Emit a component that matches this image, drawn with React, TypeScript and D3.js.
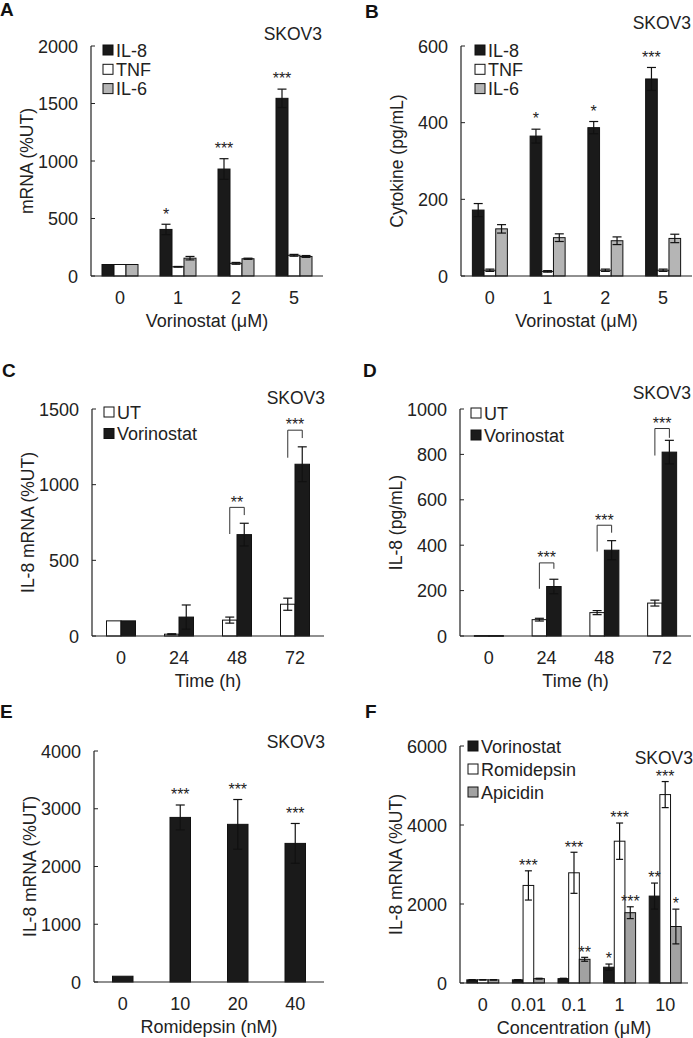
import React from "react";
import * as d3 from "d3";

const FONT = "'Liberation Sans', Arial, Helvetica, sans-serif";
const BLACK = "#1a1a1a";
const WHITE = "#ffffff";
const GREY = "#b5b5b5";
const GREY2 = "#a2a2a2";

// ---------- Panel A data ----------
const catsA = ["0", "1", "2", "5"];
const il8A = [100, 405, 930, 1545];
const il8ErrA = [0, 45, 90, 80];
const tnfA = [100, 80, 110, 180];
const tnfErrA = [0, 3, 8, 8];
const il6A = [100, 155, 150, 170];
const il6ErrA = [0, 15, 5, 8];
const starsA = ["", "*", "***", "***"];
const ticksA = [0, 500, 1000, 1500, 2000];

// ---------- Panel B data ----------
const catsB = ["0", "1", "2", "5"];
const il8B = [172, 365, 387, 514];
const il8ErrB = [17, 18, 16, 30];
const tnfB = [15, 12, 15, 15];
const tnfErrB = [3, 2, 3, 3];
const il6B = [123, 100, 92, 98];
const il6ErrB = [11, 10, 10, 11];
const starsB = ["", "*", "*", "***"];
const ticksB = [0, 200, 400, 600];

// ---------- Panel C data ----------
const catsC = ["0", "24", "48", "72"];
const utC = [100, 12, 105, 210];
const utErrC = [0, 3, 20, 40];
const vorC = [100, 125, 670, 1135];
const vorErrC = [0, 80, 75, 115];
const ticksC = [0, 500, 1000, 1500];
const bracketCatsC = ["48", "72"];
const bracketTopC = [850, 1360];
const bracketLeftC = [674, 1178];
const bracketRightC = [799, 1308];
const bracketLabelC = ["**", "***"];

// ---------- Panel D data ----------
const catsD = ["0", "24", "48", "72"];
const utD = [2, 72, 103, 145];
const utErrD = [0, 6, 9, 13];
const vorD = [2, 218, 378, 810];
const vorErrD = [0, 32, 42, 52];
const ticksD = [0, 200, 400, 600, 800, 1000];
const bracketCatsD = ["24", "48", "72"];
const bracketTopD = [322, 488, 914];
const bracketLeftD = [208, 372, 795];
const bracketRightD = [296, 455, 873];
const bracketLabelD = ["***", "***", "***"];

// ---------- Panel E data ----------
const catsE = ["0", "10", "20", "40"];
const romE = [100, 2850, 2730, 2400];
const romErrE = [0, 215, 430, 345];
const starsE = ["", "***", "***", "***"];
const ticksE = [0, 1000, 2000, 3000, 4000];

// ---------- Panel F data ----------
const catsF = ["0", "0.01", "0.1", "1", "10"];
const vorF = [80, 80, 110, 400, 2200];
const vorErrF = [5, 5, 10, 80, 330];
const romF = [80, 2470, 2790, 3590, 4770];
const romErrF = [5, 370, 520, 460, 330];
const apiF = [80, 110, 600, 1780, 1430];
const apiErrF = [5, 10, 50, 150, 440];
const starsVorF = ["", "", "", "*", "**"];
const starsRomF = ["", "***", "***", "***", "***"];
const starsApiF = ["", "", "**", "***", "*"];
const ticksF = [0, 2000, 4000, 6000];

type Series = {
  name: string;
  values: number[];
  errors: number[];
  stars?: string[];
  fill: string;
};

type Brackets = {
  cats: string[];
  top: number[];
  left: number[];
  right: number[];
  labels: string[];
};

type PanelCfg = {
  letter: string;
  letterX: number;
  letterY: number;
  cats: string[];
  series: Series[];
  x0: number;
  x1: number;
  yTop: number;
  yBottom: number;
  yMax: number;
  ticks: number[];
  groupW: number;
  yTitle: string;
  xTitle: string;
  skovX: number;
  skovY: number;
  legendX?: number;
  legendY?: number;
  legendDy?: number;
  starGap: number;
  capW: number;
  brackets?: Brackets;
};

function Panel({ cfg }: { cfg: PanelCfg }) {
  const x = d3.scaleBand<string>().domain(cfg.cats).range([cfg.x0, cfg.x1]).padding(0);
  const y = d3.scaleLinear().domain([0, cfg.yMax]).range([cfg.yBottom, cfg.yTop]);
  const sub = d3
    .scaleBand<string>()
    .domain(cfg.series.map((s) => s.name))
    .range([-cfg.groupW / 2, cfg.groupW / 2])
    .padding(0);
  const bw = sub.bandwidth();
  const cx = (c: string) => (x(c) as number) + x.bandwidth() / 2;
  const starFs = 16;

  return (
    <g>
      <text x={cfg.letterX} y={cfg.letterY} fontFamily={FONT} fontWeight="bold" fontSize={19} fill="#111">
        {cfg.letter}
      </text>
      <text x={cfg.skovX} y={cfg.skovY} fontFamily={FONT} fontSize={17.5} fill="#222" textAnchor="end">
        SKOV3
      </text>
      {/* bars */}
      {cfg.series.map((s) =>
        cfg.cats.map((c, i) => {
          const bx = cx(c) + (sub(s.name) as number);
          const v = s.values[i];
          return (
            <rect
              key={s.name + c}
              x={bx}
              y={y(v)}
              width={bw}
              height={Math.max(0.8, y(0) - y(v))}
              fill={s.fill}
              stroke="#111"
              strokeWidth={1}
            />
          );
        })
      )}
      {/* error bars */}
      {cfg.series.map((s) =>
        cfg.cats.map((c, i) => {
          const e = s.errors[i];
          if (!e) return null;
          const mx = cx(c) + (sub(s.name) as number) + bw / 2;
          const v = s.values[i];
          const yt = y(v + e);
          const yb = y(Math.max(0, v - e));
          const hw = cfg.capW / 2;
          return (
            <g key={"e" + s.name + c} stroke="#111" strokeWidth={1.2}>
              <line x1={mx} x2={mx} y1={yt} y2={yb} />
              <line x1={mx - hw} x2={mx + hw} y1={yt} y2={yt} />
              <line x1={mx - hw} x2={mx + hw} y1={yb} y2={yb} />
            </g>
          );
        })
      )}
      {/* stars */}
      {cfg.series.map((s) =>
        s.stars
          ? cfg.cats.map((c, i) => {
              const st = s.stars![i];
              if (!st) return null;
              const mx = cx(c) + (sub(s.name) as number) + bw / 2;
              const top = y(s.values[i] + s.errors[i]);
              return (
                <text
                  key={"s" + s.name + c}
                  x={mx}
                  y={top - cfg.starGap + starFs * 0.58}
                  fontFamily={FONT}
                  fontSize={starFs}
                  fill="#222"
                  textAnchor="middle"
                >
                  {st}
                </text>
              );
            })
          : null
      )}
      {/* brackets */}
      {cfg.brackets
        ? cfg.brackets.cats.map((c, i) => {
            const b = cfg.brackets!;
            const lx = cx(c) + (sub(cfg.series[0].name) as number) + bw / 2;
            const rx = cx(c) + (sub(cfg.series[1].name) as number) + bw / 2;
            const yt = y(b.top[i]);
            return (
              <g key={"b" + c}>
                <path
                  d={`M${lx},${y(b.left[i])}V${yt}H${rx}V${y(b.right[i])}`}
                  fill="none"
                  stroke="#333"
                  strokeWidth={1}
                />
                <text
                  x={(lx + rx) / 2}
                  y={yt - 9 + starFs * 0.58}
                  fontFamily={FONT}
                  fontSize={starFs}
                  fill="#222"
                  textAnchor="middle"
                >
                  {b.labels[i]}
                </text>
              </g>
            );
          })
        : null}
      {/* axes */}
      <line x1={cfg.x0} x2={cfg.x0} y1={cfg.yTop} y2={cfg.yBottom} stroke="#222" strokeWidth={1.2} />
      <line x1={cfg.x0} x2={cfg.x1} y1={cfg.yBottom} y2={cfg.yBottom} stroke="#222" strokeWidth={1.2} />
      {cfg.ticks.map((t) => (
        <g key={"t" + t}>
          <line x1={cfg.x0} x2={cfg.x0 + 4} y1={y(t)} y2={y(t)} stroke="#222" strokeWidth={1} />
          <text
            x={cfg.x0 - 13}
            y={y(t) + 6.5}
            fontFamily={FONT}
            fontSize={18}
            fill="#222"
            textAnchor="end"
          >
            {t}
          </text>
        </g>
      ))}
      {cfg.cats.map((c) => (
        <text
          key={"xl" + c}
          x={cx(c)}
          y={cfg.yBottom + 27.5}
          fontFamily={FONT}
          fontSize={18}
          fill="#222"
          textAnchor="middle"
        >
          {c}
        </text>
      ))}
      <text
        x={(cfg.x0 + cfg.x1) / 2}
        y={cfg.yBottom + 51}
        fontFamily={FONT}
        fontSize={18}
        fill="#222"
        textAnchor="middle"
      >
        {cfg.xTitle}
      </text>
      <text
        transform={`translate(${cfg.x0 - 58},${(cfg.yTop + cfg.yBottom) / 2}) rotate(-90)`}
        fontFamily={FONT}
        fontSize={17.5}
        fill="#222"
        textAnchor="middle"
      >
        {cfg.yTitle}
      </text>
      {/* legend */}
      {cfg.legendX !== undefined
        ? cfg.series.map((s, i) => {
            const ly = (cfg.legendY as number) + i * (cfg.legendDy as number);
            return (
              <g key={"lg" + s.name}>
                <rect
                  x={cfg.legendX}
                  y={ly - 5}
                  width={10}
                  height={10}
                  fill={s.fill}
                  stroke="#111"
                  strokeWidth={1}
                />
                <text
                  x={(cfg.legendX as number) + 13}
                  y={ly + 6.5}
                  fontFamily={FONT}
                  fontSize={18}
                  fill="#222"
                >
                  {s.name}
                </text>
              </g>
            );
          })
        : null}
    </g>
  );
}

const panels: PanelCfg[] = [
  {
    letter: "A", letterX: 0, letterY: 16,
    cats: catsA,
    series: [
      { name: "IL-8", values: il8A, errors: il8ErrA, stars: starsA, fill: BLACK },
      { name: "TNF", values: tnfA, errors: tnfErrA, fill: WHITE },
      { name: "IL-6", values: il6A, errors: il6ErrA, fill: GREY },
    ],
    x0: 91, x1: 323, yTop: 46, yBottom: 276, yMax: 2000, ticks: ticksA,
    groupW: 36, yTitle: "mRNA (%UT)", xTitle: "Vorinostat (\u03BCM)",
    skovX: 322, skovY: 40, legendX: 103, legendY: 50, legendDy: 19.3,
    starGap: 14, capW: 9,
  },
  {
    letter: "B", letterX: 365, letterY: 18,
    cats: catsB,
    series: [
      { name: "IL-8", values: il8B, errors: il8ErrB, stars: starsB, fill: BLACK },
      { name: "TNF", values: tnfB, errors: tnfErrB, fill: WHITE },
      { name: "IL-6", values: il6B, errors: il6ErrB, fill: GREY },
    ],
    x0: 461, x1: 692, yTop: 46, yBottom: 276, yMax: 600, ticks: ticksB,
    groupW: 35, yTitle: "Cytokine (pg/mL)", xTitle: "Vorinostat (\u03BCM)",
    skovX: 691, skovY: 29, legendX: 475, legendY: 50, legendDy: 19.3,
    starGap: 14, capW: 9,
  },
  {
    letter: "C", letterX: 2, letterY: 377,
    cats: catsC,
    series: [
      { name: "UT", values: utC, errors: utErrC, fill: WHITE },
      { name: "Vorinostat", values: vorC, errors: vorErrC, fill: BLACK },
    ],
    x0: 92, x1: 324, yTop: 409, yBottom: 636, yMax: 1500, ticks: ticksC,
    groupW: 29, yTitle: "IL-8 mRNA (%UT)", xTitle: "Time (h)",
    skovX: 325, skovY: 404, legendX: 104, legendY: 412, legendDy: 21.5,
    starGap: 14, capW: 9,
    brackets: { cats: bracketCatsC, top: bracketTopC, left: bracketLeftC, right: bracketRightC, labels: bracketLabelC },
  },
  {
    letter: "D", letterX: 363, letterY: 377,
    cats: catsD,
    series: [
      { name: "UT", values: utD, errors: utErrD, fill: WHITE },
      { name: "Vorinostat", values: vorD, errors: vorErrD, fill: BLACK },
    ],
    x0: 460, x1: 691, yTop: 409, yBottom: 636, yMax: 1000, ticks: ticksD,
    groupW: 29, yTitle: "IL-8 (pg/mL)", xTitle: "Time (h)",
    skovX: 691, skovY: 399, legendX: 471, legendY: 413, legendDy: 22,
    starGap: 14, capW: 9,
    brackets: { cats: bracketCatsD, top: bracketTopD, left: bracketLeftD, right: bracketRightD, labels: bracketLabelD },
  },
  {
    letter: "E", letterX: 0, letterY: 718,
    cats: catsE,
    series: [{ name: "Romidepsin", values: romE, errors: romErrE, stars: starsE, fill: BLACK }],
    x0: 94, x1: 324, yTop: 751, yBottom: 982, yMax: 4000, ticks: ticksE,
    groupW: 20.5, yTitle: "IL-8 mRNA (%UT)", xTitle: "Romidepsin (nM)",
    skovX: 325, skovY: 748,
    starGap: 14, capW: 9,
  },
  {
    letter: "F", letterX: 365, letterY: 718,
    cats: catsF,
    series: [
      { name: "Vorinostat", values: vorF, errors: vorErrF, stars: starsVorF, fill: BLACK },
      { name: "Romidepsin", values: romF, errors: romErrF, stars: starsRomF, fill: WHITE },
      { name: "Apicidin", values: apiF, errors: apiErrF, stars: starsApiF, fill: GREY2 },
    ],
    x0: 460, x1: 688, yTop: 746, yBottom: 983, yMax: 6000, ticks: ticksF,
    groupW: 32, yTitle: "IL-8 mRNA (%UT)", xTitle: "Concentration (\u03BCM)",
    skovX: 693, skovY: 764, legendX: 468, legendY: 746, legendDy: 23,
    starGap: 9, capW: 7,
  },
];

export default function App() {
  return (
    <div style={{ position: "absolute", left: 0, top: 0 }}>
      <svg width={693} height={1038} style={{ display: "block", background: "#fff" }}>
        {panels.map((p) => (
          <Panel key={p.letter} cfg={p} />
        ))}
      </svg>
    </div>
  );
}
